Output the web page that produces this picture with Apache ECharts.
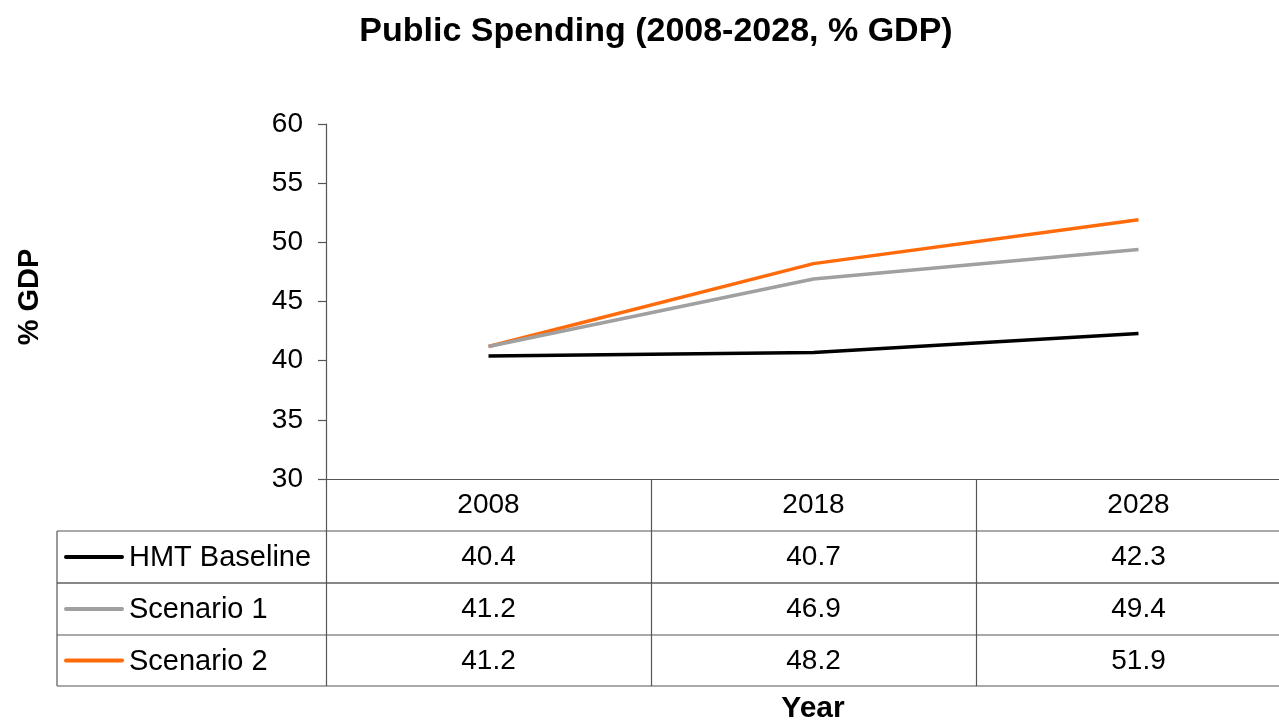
<!DOCTYPE html>
<html>
<head>
<meta charset="utf-8">
<script src="https://cdn.jsdelivr.net/npm/echarts@6/dist/echarts.min.js"></script>
<style>
  html, body { margin: 0; padding: 0; background: #fff; overflow: hidden; }
  /* the last table column runs past the right edge of the page */
  #chart { width: 1301px; height: 722px; }
</style>
</head>
<body>
<div id="chart"></div>
<script>
// Public spending projections, % of GDP
const years = ['2008', '2018', '2028'];
const seriesNames = ['HMT Baseline', 'Scenario 1', 'Scenario 2'];
const hmtBaseline = [40.4, 40.7, 42.3];
const scenario1 = [41.2, 46.9, 49.4];
const scenario2 = [41.2, 48.2, 51.9];
const yTicks = { min: 30, max: 60, step: 5 };

const colors = ['#000000', '#a0a0a0', '#ff6a0a'];
const seriesValues = [hmtBaseline, scenario1, scenario2];
const FONT = '"Liberation Sans", Arial, Helvetica, sans-serif';

const gridLeft = 326, gridTop = 124, gridBottomY = 479, colWidth = 325;
const W = gridLeft + colWidth * years.length;
const rowH = 51;
const tableLeft = 57, tableRight = W;

const chart = echarts.init(document.getElementById('chart'));

// Table rows: legend keys, names and horizontal rules
const graphics = [];
const hRows = [gridBottomY + rowH + 1, gridBottomY + 2 * rowH + 2, gridBottomY + 3 * rowH + 3, gridBottomY + 4 * rowH + 3];
hRows.forEach((y, i) => {
  graphics.push({
    type: 'line', silent: true,
    shape: { x1: tableLeft, y1: y, x2: tableRight, y2: y },
    style: { stroke: i === 1 ? '#111' : '#555', lineWidth: 1.2 }
  });
});
graphics.push({
  type: 'line', silent: true,
  shape: { x1: tableLeft, y1: hRows[0], x2: tableLeft, y2: hRows[3] },
  style: { stroke: '#555', lineWidth: 1.2 }
});
seriesNames.forEach((name, i) => {
  const cy = (hRows[i] + hRows[i + 1]) / 2;
  graphics.push({
    type: 'line', silent: true,
    shape: { x1: 66, y1: cy, x2: 122, y2: cy },
    style: { stroke: colors[i], lineWidth: 4, lineCap: 'round' }
  });
  graphics.push({
    type: 'text', silent: true,
    x: 129, y: cy + 1,
    style: { text: name, font: '29px ' + FONT, fill: '#000', align: 'left', verticalAlign: 'middle' }
  });
});
// Axis titles
graphics.push({
  type: 'text', silent: true,
  x: 30, y: 297, rotation: Math.PI / 2,
  style: { text: '% GDP', font: 'bold 29px ' + FONT, fill: '#000', align: 'center', verticalAlign: 'middle' }
});
graphics.push({
  type: 'text', silent: true,
  x: 813, y: 709,
  style: { text: 'Year', font: 'bold 30px ' + FONT, fill: '#000', align: 'center', verticalAlign: 'middle' }
});

chart.setOption({
  animation: false,
  backgroundColor: '#fff',
  title: {
    text: 'Public Spending (2008-2028, % GDP)',
    left: 651, top: 10, textAlign: 'center',
    textStyle: { fontFamily: FONT, fontSize: 34, fontWeight: 'bold', color: '#000' }
  },
  grid: { left: gridLeft, top: gridTop, right: 0, bottom: 722 - gridBottomY },
  xAxis: {
    type: 'category',
    data: years,
    boundaryGap: true,
    axisLine: { show: true, lineStyle: { color: '#555', width: 1.2 } },
    axisTick: { show: true, length: 4 * rowH + 3, lineStyle: { color: '#555', width: 1.2 } },
    axisLabel: {
      margin: 0,
      lineHeight: rowH + 1,
      fontSize: 28,
      fontFamily: FONT,
      color: '#000',
      formatter: (value, idx) => [value].concat(seriesValues.map(s => s[idx].toFixed(1))).join('\n')
    },
    splitLine: { show: false }
  },
  yAxis: {
    type: 'value',
    min: yTicks.min, max: yTicks.max, interval: yTicks.step,
    axisLine: { show: true, lineStyle: { color: '#555', width: 1.2 } },
    axisTick: { show: true, length: 8, lineStyle: { color: '#555', width: 1.2 } },
    axisLabel: { margin: 23, fontSize: 28, fontFamily: FONT, color: '#000' },
    splitLine: { show: false }
  },
  series: seriesNames.map((name, i) => ({
    name, type: 'line', data: seriesValues[i],
    symbol: 'none',
    lineStyle: { color: colors[i], width: 3.5 },
    z: 10 - i
  })),
  graphic: graphics
});
</script>
</body>
</html>
